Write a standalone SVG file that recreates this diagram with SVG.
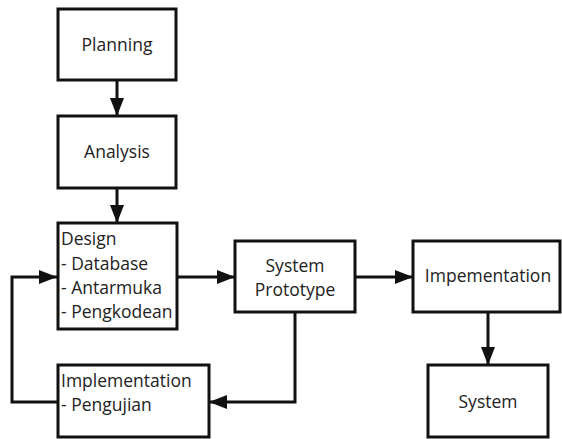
<svg xmlns="http://www.w3.org/2000/svg" width="562" height="439" viewBox="0 0 562 439">
  <style>
    .box { fill: #ffffff; stroke: #111111; stroke-width: 3; }
    .lbl { font-family: "Open Sans", "Liberation Sans", sans-serif; font-size: 17.5px; fill: #222222; }
    .mid { text-anchor: middle; }
    .edge { fill: none; stroke: #111111; stroke-width: 3; }
  </style>
  <defs>
    <marker id="arrow" markerUnits="userSpaceOnUse" markerWidth="18" markerHeight="14" refX="18" refY="7" orient="auto">
      <path d="M0,0 L18,7 L0,14 Z" fill="#111111"/>
    </marker>
  </defs>
  <rect width="562" height="439" fill="#ffffff"/>

  <g id="connectors">
    <line class="edge" x1="117" y1="80" x2="117" y2="116" marker-end="url(#arrow)"/>
    <line class="edge" x1="117" y1="188" x2="117" y2="223" marker-end="url(#arrow)"/>
    <line class="edge" x1="177" y1="277" x2="235" y2="277" marker-end="url(#arrow)"/>
    <line class="edge" x1="355" y1="277" x2="413" y2="277" marker-end="url(#arrow)"/>
    <line class="edge" x1="488" y1="312" x2="488" y2="365" marker-end="url(#arrow)"/>
    <polyline class="edge" points="295,312 295,402 209,402" marker-end="url(#arrow)"/>
    <polyline class="edge" points="57,402 12,402 12,277 57,277" marker-end="url(#arrow)"/>
  </g>

  <g id="planning">
    <rect class="box" x="58" y="9" width="118" height="71"/>
    <text class="lbl mid" x="117" y="51">Planning</text>
  </g>

  <g id="analysis">
    <rect class="box" x="58" y="116" width="118" height="72"/>
    <text class="lbl mid" x="117" y="158">Analysis</text>
  </g>

  <g id="design">
    <rect class="box" x="58" y="223" width="119" height="106"/>
    <text class="lbl" x="61" y="245">Design</text>
    <text class="lbl" x="61" y="270">- Database</text>
    <text class="lbl" x="61" y="294">- Antarmuka</text>
    <text class="lbl" x="61" y="318">- Pengkodean</text>
  </g>

  <g id="system-prototype">
    <rect class="box" x="235" y="241" width="120" height="71"/>
    <text class="lbl mid" x="295" y="272">System</text>
    <text class="lbl mid" x="295" y="296">Prototype</text>
  </g>

  <g id="implementation">
    <rect class="box" x="58" y="365" width="151" height="72"/>
    <text class="lbl" x="61" y="387">Implementation</text>
    <text class="lbl" x="61" y="411">- Pengujian</text>
  </g>

  <g id="impementation">
    <rect class="box" x="413" y="241" width="147" height="71"/>
    <text class="lbl mid" x="488" y="282">Impementation</text>
  </g>

  <g id="system">
    <rect class="box" x="428" y="365" width="120" height="72"/>
    <text class="lbl mid" x="488" y="408">System</text>
  </g>
</svg>
